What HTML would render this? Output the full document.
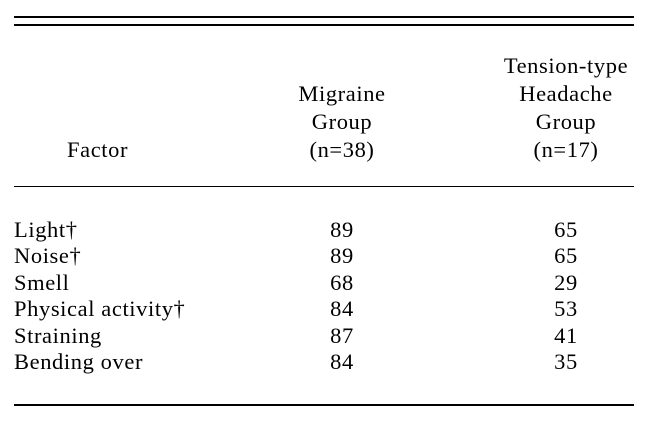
<!DOCTYPE html>
<html><head><style>
body{margin:0;width:650px;height:422px;background:#fff;position:relative;font-family:"Liberation Serif",serif;font-size:22.5px;letter-spacing:0.6px;color:#000;overflow:hidden}
.l{position:absolute;left:14px;width:620px;background:#000}
.t{position:absolute;line-height:20px;white-space:nowrap}
.c1{left:242px;width:200px;text-align:center}
.c2{left:466px;width:200px;text-align:center}
</style></head><body>
<div class="l" style="top:16px;height:2px"></div>
<div class="l" style="top:24px;height:2px"></div>
<div class="l" style="top:186px;height:1px"></div>
<div class="l" style="top:404px;height:2px"></div>

<div class="t c2" style="top:56px">Tension-type</div>
<div class="t c2" style="top:84px">Headache</div>
<div class="t c2" style="top:112px">Group</div>
<div class="t c2" style="top:140px">(n=17)</div>
<div class="t c1" style="top:84px">Migraine</div>
<div class="t c1" style="top:112px">Group</div>
<div class="t c1" style="top:140px">(n=38)</div>
<div class="t" style="left:67px;top:140px">Factor</div>

<div class="t" style="left:14px;top:220px">Light†</div>
<div class="t c1" style="top:220px">89</div><div class="t c2" style="top:220px">65</div>
<div class="t" style="left:14px;top:246px">Noise†</div>
<div class="t c1" style="top:246px">89</div><div class="t c2" style="top:246px">65</div>
<div class="t" style="left:14px;top:273px">Smell</div>
<div class="t c1" style="top:273px">68</div><div class="t c2" style="top:273px">29</div>
<div class="t" style="left:14px;top:299px">Physical activity†</div>
<div class="t c1" style="top:299px">84</div><div class="t c2" style="top:299px">53</div>
<div class="t" style="left:14px;top:326px">Straining</div>
<div class="t c1" style="top:326px">87</div><div class="t c2" style="top:326px">41</div>
<div class="t" style="left:14px;top:352px">Bending over</div>
<div class="t c1" style="top:352px">84</div><div class="t c2" style="top:352px">35</div>
</body></html>
